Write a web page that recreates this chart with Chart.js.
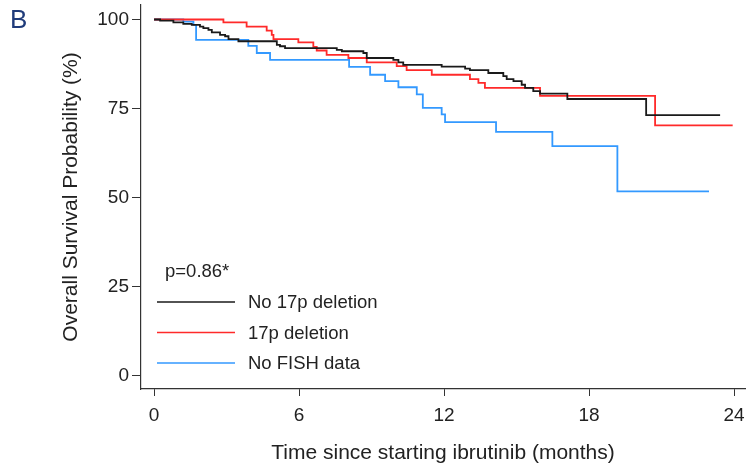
<!DOCTYPE html>
<html>
<head>
<meta charset="utf-8">
<script src="https://cdn.jsdelivr.net/npm/chart.js@4"></script>
<style>
  html, body { margin: 0; padding: 0; background: #fff; }
  #wrap { position: relative; width: 747px; height: 466px; }
</style>
</head>
<body>
<div id="wrap"><canvas id="kmChart" width="747" height="466"></canvas></div>
<script>
// Kaplan-Meier step points (months, % surviving)
const noDelTimes = [0, 0.25, 0.8, 1.21, 1.56, 1.9, 2.04, 2.25, 2.39, 2.73, 2.94, 3.08, 3.49, 5.08, 5.21, 5.42, 7.56, 7.77, 8.66, 8.8, 9.9, 10.11, 10.31, 11.9, 12.87, 13.07, 13.83, 14.45, 14.59, 14.87, 15.21, 15.35, 15.69, 15.97, 17.1, 20.36, 23.42];
const noDelSurv  = [100, 99.7, 99.2, 98.8, 98.5, 98.0, 97.6, 97.1, 96.4, 95.7, 95.3, 94.5, 93.9, 92.9, 92.5, 92.0, 91.5, 91.1, 90.6, 89.2, 88.7, 88.0, 87.3, 86.8, 86.2, 85.8, 85.0, 84.1, 83.3, 82.7, 81.7, 80.8, 79.9, 79.2, 77.7, 73.2, 73.2];

const delTimes = [0, 2.87, 3.83, 4.66, 4.87, 4.94, 5.97, 6.59, 6.73, 7.14, 8.04, 8.8, 10.04, 10.45, 11.49, 13.07, 13.42, 13.69, 15.97, 20.73, 23.94];
const delSurv  = [100, 99.2, 98.0, 96.9, 95.7, 94.5, 93.6, 92.3, 91.3, 90.1, 89.2, 88.0, 86.9, 85.8, 84.5, 83.3, 82.2, 80.8, 78.6, 70.3, 70.3];

const noFishTimes = [0, 1.21, 1.63, 1.74, 3.9, 4.25, 4.8, 8.07, 8.94, 9.56, 10.11, 10.87, 11.12, 11.9, 12.04, 14.15, 16.48, 19.17, 22.96];
const noFishSurv  = [100, 99.4, 98.5, 94.3, 92.6, 90.6, 88.7, 86.7, 84.5, 82.7, 81.0, 79.0, 75.2, 73.4, 71.2, 68.5, 64.5, 51.8, 51.8];

const groupLabels = ['No 17p deletion', '17p deletion', 'No FISH data'];
const groupColors = ['#1a1a1a', '#ff2a2a', '#3399ff'];
const xTicks = [0, 6, 12, 18, 24];
const yTicks = [0, 25, 50, 75, 100];
const pValueText = 'p=0.86*';

const FONT = '"Liberation Sans", Arial, sans-serif';
const AXIS = '#333';

function toPoints(times, surv) {
  return times.map((t, i) => ({ x: t, y: surv[i] }));
}

const series = [
  toPoints(noDelTimes, noDelSurv),
  toPoints(delTimes, delSurv),
  toPoints(noFishTimes, noFishSurv)
];

// no extra room for overhanging tick labels, the plot box is fixed
function noPad(s) {
  s.paddingTop = 0; s.paddingBottom = 0; s.paddingLeft = 0; s.paddingRight = 0;
}

// legend + panel letter drawn inside the plot, like the original figure
const overlay = {
  id: 'overlay',
  afterDraw(chart) {
    const ctx = chart.ctx;
    const area = chart.chartArea;
    ctx.save();
    ctx.fillStyle = '#1f3b7a';
    ctx.font = '26px ' + FONT;
    ctx.textBaseline = 'middle';
    ctx.textAlign = 'left';
    ctx.fillText('B', 10, 21);

    ctx.fillStyle = '#222';
    ctx.font = '18.5px ' + FONT;
    ctx.fillText(pValueText, area.left + 24, 272);

    const x0 = area.left + 16, x1 = area.left + 94;
    groupLabels.forEach((lab, i) => {
      const y = 302 + i * 30.5;
      ctx.strokeStyle = groupColors[i];
      ctx.lineWidth = 1.6;
      ctx.beginPath();
      ctx.moveTo(x0, y);
      ctx.lineTo(x1, y);
      ctx.stroke();
      ctx.fillStyle = '#222';
      ctx.fillText(lab, area.left + 107, y + 1);
    });
    ctx.restore();
  }
};

new Chart(document.getElementById('kmChart'), {
  type: 'line',
  data: {
    datasets: series.map((pts, i) => ({
      label: groupLabels[i],
      data: pts,
      borderColor: groupColors[i],
      borderWidth: 1.8,
      pointRadius: 0,
      stepped: 'before',
      fill: false
    }))
  },
  options: {
    responsive: false,
    animation: false,
    layout: { padding: { top: 5, right: 2, left: 0, bottom: 0 } },
    plugins: {
      legend: { display: false },
      tooltip: { enabled: false }
    },
    scales: {
      x: {
        type: 'linear',
        min: -0.54,
        max: 24.45,
        afterBuildTicks: s => { s.ticks = xTicks.map(v => ({ value: v })); },
        afterFit: s => { s.height = 77; noPad(s); },
        grid: { drawOnChartArea: false, drawTicks: true, tickLength: 7, color: AXIS },
        border: { display: true, color: AXIS, width: 1.2 },
        ticks: { color: '#222', font: { family: FONT, size: 19 }, padding: 8, maxRotation: 0 },
        title: {
          display: true,
          text: 'Time since starting ibrutinib (months)',
          color: '#222',
          font: { family: FONT, size: 21 },
          padding: { top: 0, bottom: 0 }
        }
      },
      y: {
        min: -3.65,
        max: 104.07,
        afterBuildTicks: s => { s.ticks = yTicks.map(v => ({ value: v })); },
        afterFit: s => { s.width = 141; noPad(s); },
        grid: { drawOnChartArea: false, drawTicks: true, tickLength: 9, color: AXIS },
        border: { display: true, color: AXIS, width: 1.2 },
        ticks: { color: '#222', font: { family: FONT, size: 19 }, padding: 3 },
        title: {
          display: true,
          text: 'Overall Survival Probability (%)',
          color: '#222',
          font: { family: FONT, size: 21 },
          padding: { top: 59, bottom: 0 }
        }
      }
    }
  },
  plugins: [overlay]
});
</script>
</body>
</html>
